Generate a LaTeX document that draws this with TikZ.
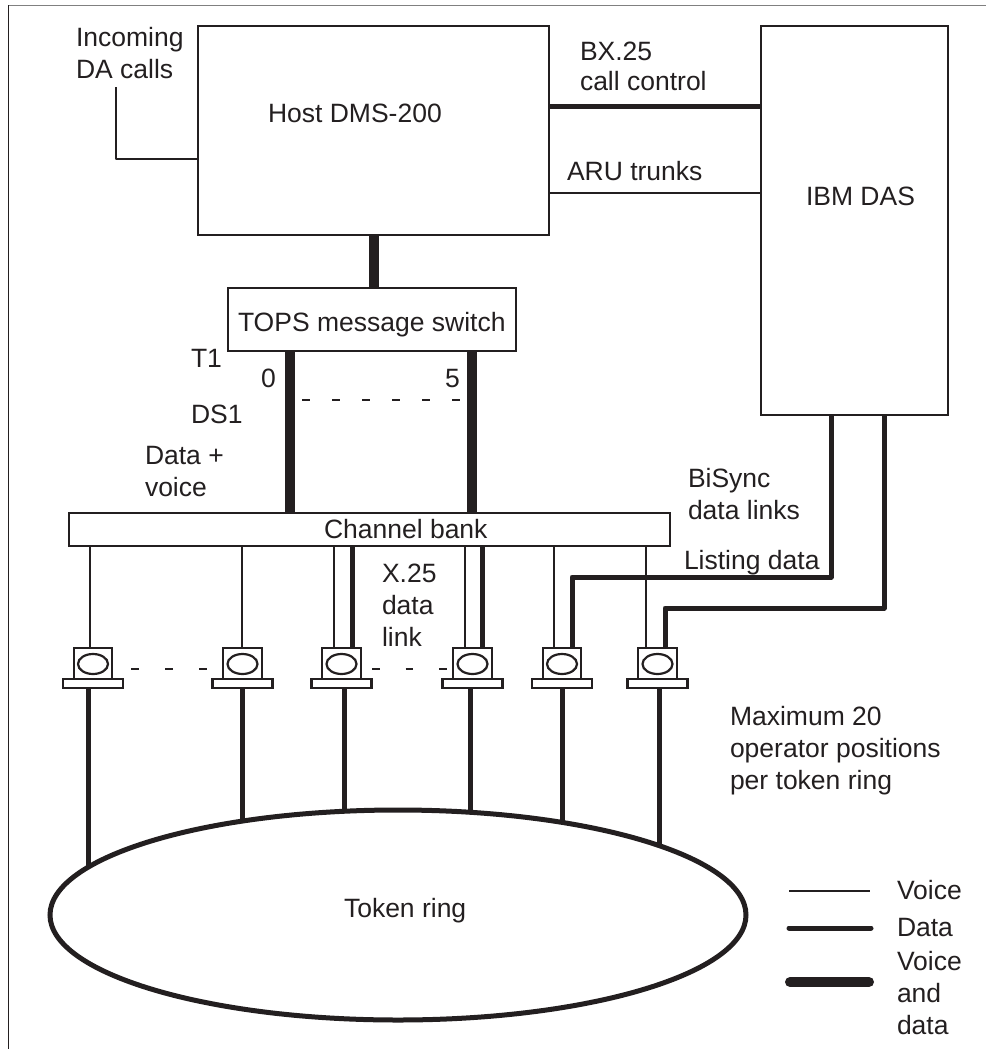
\documentclass[tikz,border=0pt]{standalone}
\usepackage{xcolor}
\usepackage{fontspec}
\setmainfont{Liberation Sans}
\usetikzlibrary{shapes.geometric}
\definecolor{ink}{HTML}{231F20}

\begin{document}
\begin{tikzpicture}[x=1pt,y=-1pt,
  every node/.style={font=\fontsize{26.5}{32}\selectfont,text=ink,inner sep=0pt,outer sep=0pt},
  boxnode/.style={draw=ink,line width=2.2pt,minimum width=#1},
  lbl/.style={anchor=base west,align=left},
  voice/.style={draw=ink,line width=2.2pt},
  datal/.style={draw=ink,line width=5pt,line join=round},
  voicedata/.style={draw=ink,line width=10pt},
  dashline/.style={draw=ink,line width=2.2pt}]
  \useasboundingbox (0,0) rectangle (986,1049);
  % page rules
  \coordinate (frametl) at (8,5.5);
  \draw[gray,line width=1.5pt] (frametl) -- (986,5.5);
  \draw[ink,line width=1pt] (frametl) -- (8,1049);

  \node[boxnode=351pt,minimum height=209pt] (host) at (373.5,130.5) {};
  \node[boxnode=187pt,minimum height=389pt] (ibm) at (854.5,220.5) {};
  \node[boxnode=288pt,minimum height=63pt] (tops) at (372,319.5) {};
  \node[boxnode=601pt,minimum height=33pt] (bank) at (369.5,529.5) {};
  \node[draw=ink,line width=5pt,ellipse,minimum width=696pt,minimum height=210pt] (ring) at (398,915) {};

  % operator positions
  \foreach \n/\xpos in {tA/93,tB/242.5,tC/341.5,tD/472.5,tE/562,tF/657.5} {
    \node[boxnode=38.5pt,minimum height=31pt] (\n) at (\xpos,663.5) {};
    \node[boxnode=60pt,minimum height=9pt] (\n-base) at (\xpos,683.5) {};
    \node[draw=ink,line width=2.2pt,ellipse,minimum width=30pt,minimum height=20pt] (\n-scr) at (\xpos,664) {};
  }

  \coordinate (ringa) at (88,867);
  \coordinate (ringb) at (242,821);
  \coordinate (ringc) at (344,811);
  \coordinate (ringd) at (470,812);
  \coordinate (ringe) at (562,822);
  \coordinate (ringf) at (659,846);
  \coordinate (incoming) at (116,87);

  \draw[voice,line join=round] (incoming) |- (host.west |- 0,159);
  \draw[datal] (host.east |- 0,106) -- (ibm.west |- 0,106);
  \draw[voice] (host.east |- 0,193) -- (ibm.west |- 0,193);
  \draw[voicedata] (host.south) -- (tops.north -| host.south);
  \draw[voicedata] (tops.south -| 290,0) -- (bank.north -| 290,0);
  \draw[voicedata] (tops.south -| 472,0) -- (bank.north -| 472,0);
  \draw[dashline,dash pattern=on 7.5pt off 22.5pt] (302,400) -- (460,400);

  \draw[voice] (bank.south -| 90,0) -- (tA.north -| 90,0);
  \draw[voice] (bank.south -| 242,0) -- (tB.north -| 242,0);
  \draw[voice] (bank.south -| 334,0) -- (tC.north -| 334,0);
  \draw[datal] (bank.south -| 352,0) -- (tC.north -| 352,0);
  \draw[voice] (bank.south -| 465,0) -- (tD.north -| 465,0);
  \draw[datal] (bank.south -| 482,0) -- (tD.north -| 482,0);
  \draw[voice] (bank.south -| 554,0) -- (tE.north -| 554,0);
  \draw[voice] (bank.south -| 646,0) -- (tF.north -| 646,0);
  \draw[datal] (ibm.south -| 831,0) -- (831,577) -| (tE.north -| 572,0);
  \draw[datal] (ibm.south -| 884,0) -- (884,608) -| (tF.north -| 665,0);

  \draw[dashline,dash pattern=on 7.5pt off 26.5pt] (131,669) -- (207,669);
  \draw[dashline,dash pattern=on 7.5pt off 26pt] (372,669) -- (447,669);

  \draw[datal] (tA-base.south -| ringa) -- (ringa);
  \draw[datal] (tB-base.south -| ringb) -- (ringb);
  \draw[datal] (tC-base.south -| ringc) -- (ringc);
  \draw[datal] (tD-base.south -| ringd) -- (ringd);
  \draw[datal] (tE-base.south -| ringe) -- (ringe);
  \draw[datal] (tF-base.south -| ringf) -- (ringf);

  % labels
  \node[lbl] (incominglbl) at (76,78) {Incoming\\DA calls};
  \node[lbl] (hostlbl) at (268,122) {Host DMS-200};
  \node[lbl] (bxlbl) at (580,60) {BX.25};
  \node[lbl] (calllbl) at (580,90) {call control};
  \node[lbl] (arulbl) at (567,180) {ARU trunks};
  \node[lbl] (ibmlbl) at (806,205) {IBM DAS};
  \node[lbl] (topslbl) at (238,331) {TOPS message switch};
  \node[lbl] (tonelbl) at (191,367) {T1};
  \node[lbl] (zerolbl) at (261,387) {0};
  \node[lbl] (fivelbl) at (445,387) {5};
  \node[lbl] (dslbl) at (191,423) {DS1};
  \node[lbl] (datalbl) at (145,496) {Data +\\voice};
  \node[lbl] (banklbl) at (324,538) {Channel bank};
  \node[lbl] (xlbl) at (382,646) {X.25\\data\\link};
  \node[lbl] (bisynclbl) at (688,519) {BiSync\\data links};
  \node[lbl] (listinglbl) at (684,569) {Listing data};
  \node[lbl] (maxlbl) at (730,789) {Maximum 20\\operator positions\\per token ring};
  \node[lbl] (ringlbl) at (344,917) {Token ring};

  % legend
  \coordinate (legva) at (789,891);
  \coordinate (legvb) at (870,891);
  \coordinate (legda) at (789,928);
  \coordinate (legdb) at (871,928);
  \coordinate (legba) at (790,982);
  \coordinate (legbb) at (869,982);
  \draw[voice] (legva) -- (legvb);
  \draw[datal,line cap=round] (legda) -- (legdb);
  \draw[voicedata,line cap=round] (legba) -- (legbb);
  \node[lbl] (legv) at (897,899) {Voice};
  \node[lbl] (legd) at (897,936) {Data};
  \node[lbl] (legb) at (897,1034) {Voice\\and\\data};
\end{tikzpicture}
\end{document}
